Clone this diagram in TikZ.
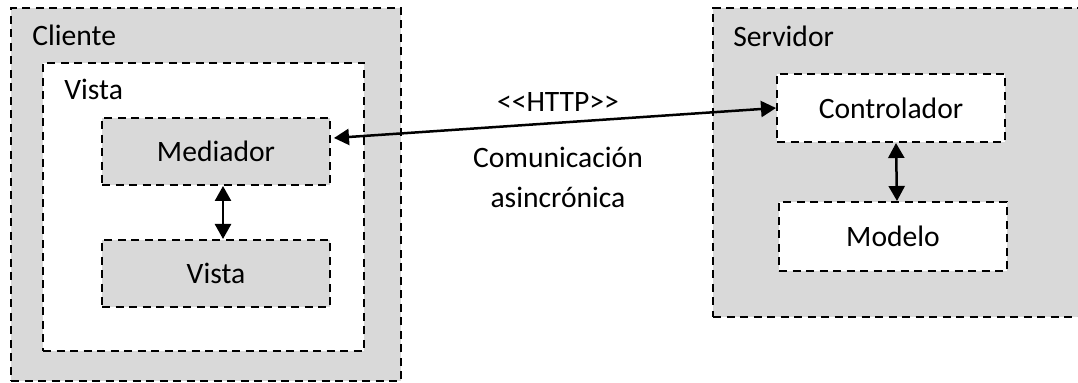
\documentclass[tikz,border=0pt]{standalone}
\usepackage{fontspec}
\newfontfamily\carlito{Carlito}
\usetikzlibrary{arrows.meta}
\definecolor{panel}{HTML}{D9D9D9}
\begin{document}
\begin{tikzpicture}[x=0.5pt,y=-0.5pt,
  box/.style={draw, line width=1pt, dash pattern=on 4pt off 2.75pt, inner sep=0pt},
  container/.style={box, fill=panel},
  layer/.style={box, fill=white},
  txt/.style={font=\carlito\fontsize{14.8}{20}\selectfont, inner sep=0pt},
  link/.style={line width=1.25pt,
    {Triangle[length=7.5pt,width=8pt]}-{Triangle[length=7.5pt,width=8pt]}}
]
\useasboundingbox (0,0) rectangle (1078,383);

% client side
\node[container, minimum width=195pt, minimum height=186.5pt] (cliente) at (206,194.5) {};
\node[txt, anchor=base west] (clientelbl) at (32,46) {Cliente};
\node[layer, minimum width=160.5pt, minimum height=144pt] (vistacapa) at (203.5,207) {};
\node[txt, anchor=base west] (vistalbl) at (64,100) {Vista};
\node[container, minimum width=114pt, minimum height=33.5pt, txt] (mediador) at (216,151.5) {Mediador};
\node[container, minimum width=114pt, minimum height=33.5pt, txt] (vista) at (216,273.5) {Vista};

% server side
\node[container, minimum width=184.5pt, minimum height=154.5pt] (servidor) at (897.5,162.5) {};
\node[txt, anchor=base west] (servidorlbl) at (733,47) {Servidor};
\node[layer, minimum width=114pt, minimum height=34pt, txt] (controlador) at (891,108) {Controlador};
\node[layer, minimum width=114pt, minimum height=34.5pt, txt] (modelo) at (893,236.5) {Modelo};

% connectors
\draw[link] ([xshift=3.5pt]mediador.south) -- ([xshift=3.5pt]vista.north);
\draw[link] ([xshift=2.5pt]controlador.south) -- ([xshift=2pt]modelo.north);
\draw[link] ([yshift=6.75pt,xshift=1.5pt]mediador.east) -- (controlador.west);

% protocol labels
\node[txt] (http) at (558,102) {<<HTTP>>};
\node[txt, align=center] (desc) at (558,177) {Comunicación\\asincrónica};
\end{tikzpicture}
\end{document}
